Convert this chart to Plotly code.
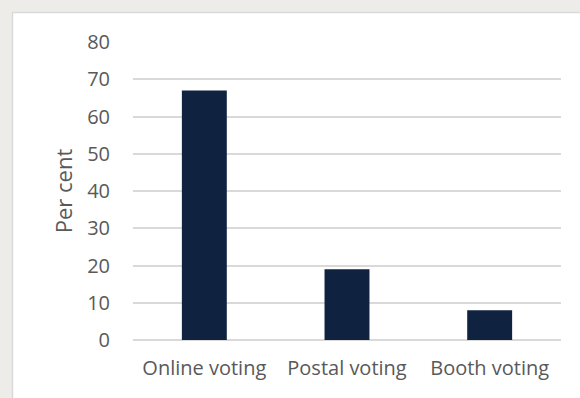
import plotly.graph_objects as go

# Share of respondents by voting method
methods = ["Online voting", "Postal voting", "Booth voting"]
per_cent = [67, 19, 8]
y_ticks = [0, 10, 20, 30, 40, 50, 60, 70, 80]

W, H = 580, 398
L, R, T, B = 133, 19, 42, 58
pw, ph = W - L - R, H - T - B

def px_x(x):
    return (x - L) / pw

def px_y(y):
    return (H - B - y) / ph

font_family = "Open Sans, Noto Sans, sans-serif"
text_col = "#595959"

fig = go.Figure(
    go.Bar(
        x=methods,
        y=per_cent,
        marker=dict(color="#0f2341", line=dict(width=0)),
        width=0.315,
    )
)

fig.update_layout(
    width=W,
    height=H,
    margin=dict(l=L, r=R, t=T, b=B, pad=0),
    paper_bgcolor="#edece8",
    plot_bgcolor="rgba(0,0,0,0)",
    showlegend=False,
    font=dict(family=font_family, size=20, color=text_col),
    shapes=[
        dict(
            type="rect",
            xref="paper",
            yref="paper",
            x0=px_x(12.5),
            x1=px_x(W + 10),
            y0=px_y(H + 10),
            y1=px_y(12.5),
            fillcolor="white",
            line=dict(color="#d9d9d9", width=1.5),
            layer="below",
        )
    ],
)

fig.update_xaxes(
    showgrid=False,
    showline=False,
    zeroline=False,
    ticks="",
    ticklabelstandoff=14,
    tickfont=dict(size=20, color=text_col),
)

fig.update_yaxes(
    range=[0, 80],
    tickvals=y_ticks,
    showgrid=True,
    gridcolor="#d9d9d9",
    gridwidth=1.5,
    zeroline=True,
    zerolinecolor="#d9d9d9",
    zerolinewidth=1.5,
    showline=False,
    ticks="",
    ticklabelstandoff=22,
    tickfont=dict(size=20, color=text_col),
    title=dict(text="Per cent", font=dict(size=22, color=text_col), standoff=8),
)

fig.write_html("out.html")
